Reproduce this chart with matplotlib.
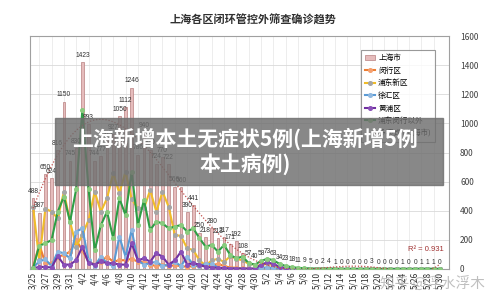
import matplotlib.pyplot as plt
import numpy as np
import datetime as dt

plt.rcParams['font.family'] = ['Noto Sans CJK SC', 'DejaVu Sans']

# dates 3/25 .. 5/30
start = dt.date(2022, 3, 25)
dates = [start + dt.timedelta(days=k) for k in range(67)]
date_labels = ['%d/%d' % (d.month, d.day) for d in dates]

shanghai = [488, 387, 650, 624, 816, 1150, 745, 830, 1423, 993,
            744, 777, 885, 927, 1050, 1112, 1246, 786, 940, 820,
            724, 770, 722, 566, 560, 390, 441, 250, 218, 280,
            213, 217, 171, 192, 108, 57, 40,
            58, 73, 63, 34, 23, 18, 11, 9, 5, 0,
            2, 4, 1, 0, 0, 0, 0, 0, 3, 0,
            0, 0, 0, 1, 0, 0, 1, 1, 1, 0]

minhang = [10, 170, 38, 38, 85, 96, 119, 199, 128, 50,
           30, 50, 85, 50, 60, 60, 70, 50, 50, 30,
           20, 30, 20, 25, 20, 15, 20, 20, 20, 25,
           35, 20, 10, 8, 5, 3, 2,
           5, 8, 5, 3, 2, 1, 0, 0, 0, 0,
           0, 0, 0, 0, 0, 0, 0, 0, 0, 0,
           0, 0, 0, 0, 0, 0, 0, 0, 0, 0]

pudong = [428, 60, 415, 394, 348, 531, 325, 154, 234, 336,
          531, 394, 485, 657, 520, 668, 480, 417, 417, 542,
          394, 531, 428, 234, 227, 142, 130, 59, 25, 59,
          70, 48, 88, 70, 59, 35, 30,
          20, 40, 25, 10, 5, 3, 2, 1, 0, 0,
          0, 0, 0, 0, 0, 0, 0, 0, 0, 0,
          0, 0, 0, 0, 0, 0, 0, 0, 0, 0]

xuhui = [10, 52, 66, 20, 119, 108, 73, 257, 279, 60,
         20, 85, 40, 20, 222, 85, 268, 60, 30, 40,
         50, 20, 30, 50, 20, 85, 30, 20, 35, 35,
         10, 5, 3, 2, 2, 1, 1,
         8, 10, 5, 2, 1, 0, 0, 0, 0, 0,
         0, 0, 0, 0, 0, 0, 0, 0, 0, 0,
         0, 0, 0, 0, 0, 0, 0, 0, 0, 0]

huangpu = [5, 14, 14, 10, 88, 30, 30, 60, 154, 40,
           30, 52, 40, 40, 30, 30, 176, 59, 73, 50,
           108, 85, 30, 59, 119, 30, 40, 30, 14, 10,
           8, 5, 3, 3, 2, 2, 2,
           30, 45, 35, 15, 5, 2, 1, 0, 0, 0,
           0, 0, 0, 0, 0, 0, 0, 0, 0, 0,
           0, 0, 0, 0, 0, 0, 0, 0, 0, 0]

others = [5, 160, 176, 199, 394, 497, 325, 550, 1092, 550,
          128, 300, 394, 211, 485, 371, 668, 302, 474, 268,
          325, 314, 279, 291, 302, 257, 279, 211, 154, 165,
          119, 165, 96, 73, 85, 40, 30,
          55, 70, 60, 35, 20, 12, 8, 5, 3, 2,
          2, 3, 1, 0, 0, 0, 0, 0, 2, 0,
          0, 0, 0, 1, 0, 0, 1, 1, 1, 0]

x = np.arange(len(dates))

fig = plt.figure(figsize=(5, 3.06), dpi=100)
fig.patch.set_facecolor('white')
ax = fig.add_axes([0.06, 0.121, 0.838, 0.761])

handles = []
bars = ax.bar(x, shanghai, width=0.45, color='#e6bcbc', edgecolor='#b88080',
              linewidth=0.5, label='上海市', zorder=2)
handles.append(bars)

series = [
    (minhang, '闵行区', '#ed7d31', '#f4a070'),
    (pudong, '浦东新区', '#f0bc2a', '#a5a5a5'),
    (xuhui, '徐汇区', '#5b9bd5', '#8fb8e0'),
    (huangpu, '黄浦区', '#7030a0', '#8a50b8'),
    (others, '浦东闵行以外', '#2e9e45', '#8acb7e'),
]
for vals, name, c, mc in series:
    ln, = ax.plot(x, vals, color=c, lw=1.5, marker='o', ms=2.6,
                  mfc=mc, mec=mc, label=name, zorder=3)
    handles.append(ln)

# polynomial trend of the city total
coef = np.polyfit(x, shanghai, 6)
xf = np.linspace(0, len(x) - 1, 300)
tr, = ax.plot(xf, np.polyval(coef, xf), color='#c0504d', lw=0.9, ls=(0, (1, 1.5)),
              label='多项式 (上海市)', zorder=4)
handles.append(tr)
ax.text(66.6, 125, 'R² = 0.931', color='#a03030', fontsize=5.5, ha='right',
        family='Liberation Sans')

for i, v in enumerate(shanghai):
    ax.text(i, v + 22, str(v), ha='center', va='bottom', fontsize=4.8,
            color='#303030', family='Liberation Sans', zorder=5)

ax.set_xlim(-0.5, 67.5)
ax.set_ylim(0, 1600)
ax.set_xticks(x[::2])
ax.set_xticklabels(date_labels[::2], rotation=90, fontsize=6, color='#303030')
ax.set_xticks(x, minor=True)
ax.yaxis.tick_right()
ax.set_yticks(np.arange(0, 1601, 200))
ax.tick_params(axis='y', labelsize=6, colors='#404040', length=0, pad=8)
ax.tick_params(axis='x', length=0, pad=2)
ax.tick_params(axis='x', which='minor', length=0)
ax.grid(axis='y', color='#d9d9d9', lw=0.6)
ax.grid(axis='x', which='minor', color='#e6e6e6', lw=0.5)
ax.set_axisbelow(True)
for s in ax.spines.values():
    s.set_color('#a0a0a0')
    s.set_linewidth(0.8)

leg = ax.legend(handles=handles, loc='upper right', bbox_to_anchor=(0.975, 0.955),
                fontsize=5.5, frameon=True, fancybox=False, edgecolor='#808080',
                labelspacing=0.6, handlelength=1.3, handletextpad=0.4,
                borderpad=0.5)
leg.get_frame().set_linewidth(0.8)

fig.text(0.505, 0.935, '上海各区闭环管控外筛查确诊趋势', ha='center', va='center',
         fontsize=8, fontweight='bold', color='#303030')

# banner overlay
fig.patches.append(plt.Rectangle((0.11, 0.395), 0.776, 0.219, transform=fig.transFigure,
                                 color='#6e6e6e', alpha=0.82, zorder=10))
fig.text(0.49, 0.505, '上海新增本土无症状5例(上海新增5例\n本土病例)', ha='center', va='center',
         fontsize=15, fontweight='bold', color='white', linespacing=1.2, zorder=11)

fig.text(0.865, 0.07, '知乎 @浮水浮木', ha='center', va='center', fontsize=10.5,
         color='#b0b0b0', alpha=0.8, zorder=11)

fig.savefig('out.png', dpi=100)
